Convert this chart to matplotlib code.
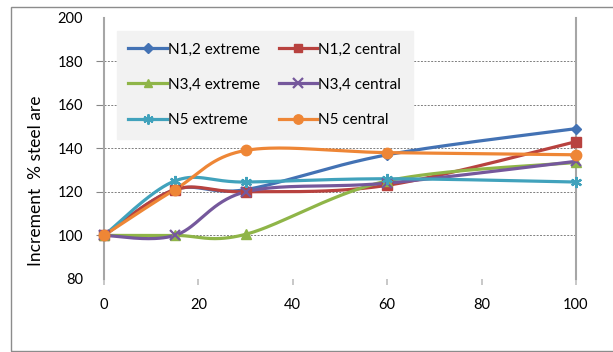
import numpy as np
import matplotlib
matplotlib.use("Agg")
import matplotlib.pyplot as plt
from matplotlib.patches import Rectangle

plt.rcParams['font.family'] = ['Lato', 'DejaVu Sans']

# Data
x_vals = [0, 15, 30, 60, 100]
series_names = ["N1,2 extreme", "N1,2 central", "N3,4 extreme",
                "N3,4 central", "N5 extreme", "N5 central"]
n12_extreme = [100, 121, 121, 137, 149]
n12_central = [100, 121, 120, 123, 143]
n34_extreme = [100, 100, 100.5, 125, 133.5]
n34_central = [100, 100, 120, 124, 134]
n5_extreme = [100, 125, 124.5, 126, 124.5]
n5_central = [100, 121, 139, 138, 137]
y_ticks = [80, 100, 120, 140, 160, 180, 200]
x_ticks = [0, 20, 40, 60, 80, 100]

series_values = [n12_extreme, n12_central, n34_extreme,
                 n34_central, n5_extreme, n5_central]
colors = ["#4372B4", "#B8423F", "#8FB548", "#75589C", "#41A2BC", "#EE8636"]
markers = ["D", "s", "^", "x", (6, 2, 0), "o"]
msizes = [5.5, 6.5, 6.5, 7.5, 8, 7.5]


def smooth_curve(xs, ys, n=40):
    """Cubic Bezier smoothing through every point (spreadsheet style)."""
    P = np.column_stack([xs, ys]).astype(float)
    out = []
    for i in range(len(P) - 1):
        p0 = P[i - 1] if i > 0 else P[i]
        p1, p2 = P[i], P[i + 1]
        p3 = P[i + 2] if i + 2 < len(P) else P[i + 1]
        c1 = p1 + (p2 - p0) / 6.0
        c2 = p2 - (p3 - p1) / 6.0
        t = np.linspace(0, 1, n)[:, None]
        seg = ((1 - t) ** 3) * p1 + 3 * ((1 - t) ** 2) * t * c1 \
            + 3 * (1 - t) * (t ** 2) * c2 + (t ** 3) * p2
        out.append(seg if i == 0 else seg[1:])
    return np.vstack(out)


W, H = 613, 352
fig = plt.figure(figsize=(W / 100, H / 100), dpi=100)
ax = fig.add_axes([104 / W, 1 - 279 / H, (576 - 104) / W, (279 - 17.5) / H])

# Outer chart frame
fig.patches.append(Rectangle((10.5 / W, 1 - 350.5 / H), 1.2, (350.5 - 7) / H,
                             transform=fig.transFigure, fill=False,
                             edgecolor="#8C8C8C", linewidth=1.0))

# Horizontal gridlines
for yv in y_ticks[1:-1]:
    ax.axhline(yv, color="#7F7F7F", linewidth=0.7, linestyle=(0, (2, 1.5)),
               zorder=1)

handles = []
for name, vals, c, m, ms in zip(series_names, series_values, colors,
                                markers, msizes):
    curve = smooth_curve(x_vals, vals)
    ax.plot(curve[:, 0], curve[:, 1], color=c, linewidth=2.3, zorder=3,
            solid_capstyle="round")
    mew = 1.6 if m in ("x", (6, 2, 0)) else 1.0
    ax.plot(x_vals, vals, linestyle="none", marker=m, markersize=ms,
            color=c, markeredgecolor=c, markeredgewidth=mew, zorder=4,
            clip_on=False)
    h, = ax.plot([], [], color=c, linewidth=2.3, marker=m,
                 markersize=ms * 0.9, markeredgewidth=mew, label=name)
    handles.append(h)

ax.set_xlim(0, 100)
ax.set_ylim(80, 200)
ax.set_xticks(x_ticks)
ax.set_yticks(y_ticks)

for s in ("top", "bottom"):
    ax.spines[s].set_visible(False)
for s in ("left", "right"):
    ax.spines[s].set_color("#A6A6A6")
    ax.spines[s].set_linewidth(1.5)
    ax.spines[s].set_bounds(80, 200)

ax.tick_params(axis="y", direction="out", length=6, width=0.8,
               color="#868686", labelsize=10.5, pad=9, labelcolor="#000000")
ax.tick_params(axis="x", direction="out", length=4, width=1.2,
               color="#BFBFBF", labelsize=10.5, pad=10, labelcolor="#000000")
for i, tl in enumerate(ax.yaxis.get_major_ticks()):
    if y_ticks[i] in (80, 200):
        tl.tick1line.set_visible(False)

fig.text(36 / W, 1 - 181 / H, "Increment  % steel are", rotation=90,
         ha="center", va="center", fontsize=12.5)

order = [0, 2, 4, 1, 3, 5]
leg = ax.legend([handles[i] for i in order],
                [series_names[i] for i in order],
                ncol=2, loc="upper left",
                bbox_to_anchor=((117 - 104) / (576 - 104),
                                1 - (31 - 17.5) / (279 - 17.5)),
                frameon=True, fancybox=False, fontsize=11,
                handlelength=2.5, handletextpad=0.1, columnspacing=1.2,
                labelspacing=1.4, borderpad=0.75, borderaxespad=0)
leg.get_frame().set_facecolor("#F2F2F2")
leg.get_frame().set_edgecolor("#F2F2F2")
leg.get_frame().set_alpha(1)
leg.set_zorder(5)

fig.savefig("out.png", dpi=100)
